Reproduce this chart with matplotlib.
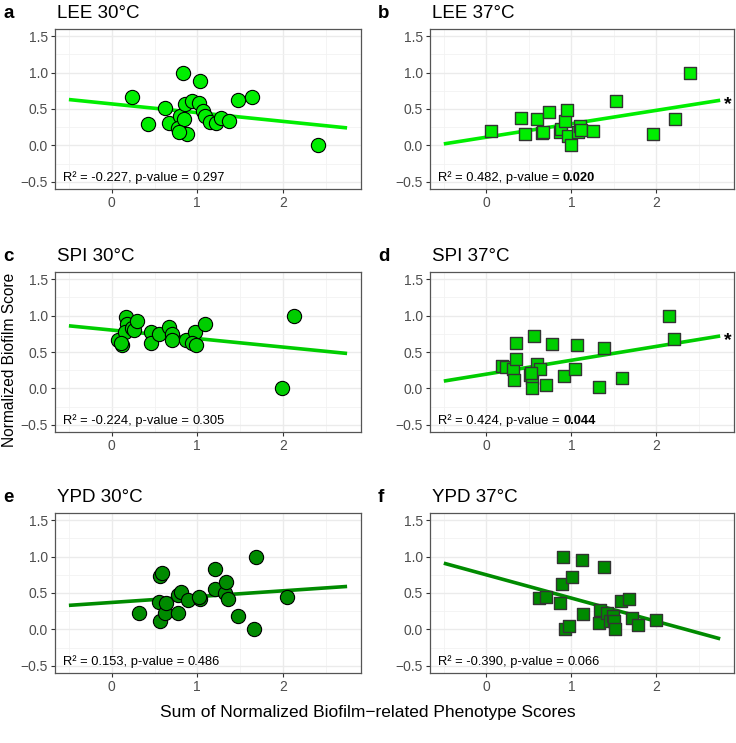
import matplotlib
matplotlib.use("Agg")
import matplotlib.pyplot as plt
import numpy as np

plt.rcParams['font.family'] = ['Liberation Sans', 'DejaVu Sans']

# ---------------- data ----------------
panel_letters = ["a", "b", "c", "d", "e", "f"]
panel_titles = ["LEE 30°C", "LEE 37°C", "SPI 30°C", "SPI 37°C", "YPD 30°C", "YPD 37°C"]

lee30_x = [0.24, 0.42, 0.62, 0.67, 0.83, 1.03, 0.80, 0.78, 0.85, 0.88, 0.855, 0.94, 1.02, 1.07, 1.09,
           1.145, 1.22, 1.275, 1.365, 1.47, 1.635, 2.41, 0.79]
lee30_y = [0.66, 0.29, 0.51, 0.31, 1.00, 0.89, 0.41, 0.24, 0.36, 0.16, 0.57, 0.61, 0.58, 0.47, 0.41,
           0.32, 0.31, 0.38, 0.34, 0.62, 0.67, 0.00, 0.19]

lee37_x = [0.06, 0.41, 0.46, 0.60, 0.65, 0.67, 0.74, 0.87, 0.88, 0.93, 0.95, 0.96, 0.99, 1.08, 1.10,
           1.11, 1.25, 1.52, 1.96, 2.22, 2.40]
lee37_y = [0.20, 0.37, 0.15, 0.36, 0.17, 0.18, 0.46, 0.19, 0.22, 0.34, 0.49, 0.13, 0.00, 0.18, 0.27,
           0.21, 0.20, 0.61, 0.16, 0.36, 1.00]

spi30_x = [0.07, 0.12, 0.165, 0.18, 0.16, 0.24, 0.26, 0.30, 0.46, 0.46, 0.55, 0.67, 0.71, 0.70, 0.87,
           0.97, 0.94, 0.99, 1.09, 1.99, 2.13, 0.11]
spi30_y = [0.66, 0.60, 0.98, 0.89, 0.78, 0.83, 0.80, 0.92, 0.78, 0.63, 0.75, 0.85, 0.75, 0.67, 0.67,
           0.77, 0.62, 0.60, 0.89, 0.00, 1.00, 0.63]

spi37_x = [0.19, 0.23, 0.31, 0.33, 0.35, 0.35, 0.51, 0.54, 0.54, 0.56, 0.59, 0.63, 0.70, 0.77, 0.91,
           1.04, 1.07, 1.33, 1.38, 1.60, 2.15, 2.21, 0.53]
spi37_y = [0.31, 0.29, 0.26, 0.11, 0.63, 0.41, 0.18, 0.14, 0.00, 0.72, 0.33, 0.26, 0.05, 0.61, 0.17,
           0.27, 0.60, 0.02, 0.56, 0.14, 1.00, 0.68, 0.21]

ypd30_x = [0.32, 0.56, 0.59, 0.55, 0.56, 0.62, 0.63, 0.77, 0.78, 0.81, 0.89, 1.03, 1.02, 1.21, 1.21,
           1.32, 1.33, 1.36, 1.47, 1.66, 1.69, 2.05]
ypd30_y = [0.22, 0.74, 0.78, 0.37, 0.12, 0.22, 0.36, 0.47, 0.22, 0.51, 0.41, 0.42, 0.45, 0.83, 0.55,
           0.50, 0.65, 0.42, 0.19, 0.00, 1.00, 0.45]

ypd37_x = [0.62, 0.70, 0.87, 0.89, 0.90, 0.93, 0.97, 1.01, 1.12, 1.14, 1.33, 1.34, 1.38, 1.42, 1.45,
           1.49, 1.50, 1.51, 1.58, 1.68, 1.71, 1.78, 2.00]
ypd37_y = [0.43, 0.45, 0.36, 0.62, 1.00, 0.00, 0.04, 0.72, 0.95, 0.21, 0.09, 0.26, 0.86, 0.23, 0.11,
           0.18, 0.11, 0.00, 0.39, 0.42, 0.16, 0.06, 0.13]

# fitted line end values at x = -0.5 and x = 2.75
line_x = [-0.5, 2.75]
lee30_line = [0.63, 0.24]
lee37_line = [0.02, 0.62]
spi30_line = [0.86, 0.48]
spi37_line = [0.10, 0.72]
ypd30_line = [0.33, 0.59]
ypd37_line = [0.91, -0.13]

stat_r = ["-0.227", "0.482", "-0.224", "0.424", "0.153", "-0.390"]
stat_p = ["0.297", "0.020", "0.305", "0.044", "0.486", "0.066"]
significant = [False, True, False, True, False, False]

xs = [lee30_x, lee37_x, spi30_x, spi37_x, ypd30_x, ypd37_x]
ys = [lee30_y, lee37_y, spi30_y, spi37_y, ypd30_y, ypd37_y]
lines = [lee30_line, lee37_line, spi30_line, spi37_line, ypd30_line, ypd37_line]

# ---------------- styling ----------------
colors = ["#00EE00", "#00EE00", "#00CD00", "#00CD00", "#008B00", "#008B00"]
markers = ["o", "s", "o", "s", "o", "s"]

W, H = 736, 743
fig = plt.figure(figsize=(W / 100, H / 100), dpi=100)

lefts = [55, 430]
widths = [306, 304]
tops = [29, 272, 513]
height = 160


def px_axes(left, top, w, h):
    return fig.add_axes([left / W, 1 - (top + h) / H, w / W, h / H])


for i in range(6):
    row, col = divmod(i, 2)
    ax = px_axes(lefts[col], tops[row], widths[col], height)
    ax.set_xlim(-0.6625, 2.9125)
    ax.set_ylim(-0.6, 1.6)
    ax.set_xticks([0, 1, 2])
    ax.set_xticks([-0.5, 0.5, 1.5, 2.5], minor=True)
    ax.set_yticks([-0.5, 0.0, 0.5, 1.0, 1.5])
    ax.set_yticks([-0.25, 0.25, 0.75, 1.25], minor=True)
    ax.set_yticklabels(["\u22120.5", "0.0", "0.5", "1.0", "1.5"])
    ax.grid(True, which="major", color="#EBEBEB", linewidth=1.0, zorder=0)
    ax.grid(True, which="minor", color="#F2F2F2", linewidth=0.6, zorder=0)
    ax.set_axisbelow(True)
    for s in ax.spines.values():
        s.set_color("#555555")
        s.set_linewidth(0.9)
    ax.tick_params(which="major", length=3, width=0.8, color="#333333",
                   labelsize=10, labelcolor="#4D4D4D", pad=2)
    ax.tick_params(which="minor", length=0)

    ax.plot(line_x, lines[i], color=colors[i], linewidth=2.6, zorder=2, solid_capstyle="butt")
    if markers[i] == "o":
        ax.scatter(xs[i], ys[i], s=105, marker="o", facecolor=colors[i], edgecolor="black",
                   linewidth=0.8, zorder=3)
    else:
        ax.scatter(xs[i], ys[i], s=85, marker="s", facecolor=colors[i], edgecolor="#333333",
                   linewidth=1.0, zorder=3)

    t1 = ax.text(0.026, 0.07, f"R\u00b2 = {stat_r[i]}, p-value = ", transform=ax.transAxes,
                 fontsize=9.3, ha="left", va="center", color="black")
    ax.annotate(stat_p[i], xy=(1, 0), xycoords=t1, ha="left", va="bottom", fontsize=9.3,
                fontweight="bold" if significant[i] else "normal", color="black")
    if significant[i]:
        ax.text(2.79, lines[i][1] - 0.06, "*", fontsize=14, fontweight="bold",
                ha="left", va="center", clip_on=False)

    # title and letter
    fig.text((lefts[col] + 2) / W, 1 - 18 / H - (tops[row] - 29) / H, panel_titles[i],
             fontsize=13.5, ha="left", va="baseline")
    fig.text((lefts[col] - 52) / W, 1 - 18 / H - (tops[row] - 29) / H, panel_letters[i],
             fontsize=13.5, fontweight="bold", ha="left", va="baseline")

fig.text(10 / W, 1 - 360 / H, "Normalized Biofilm Score", rotation=90, fontsize=11.2,
         ha="center", va="center")
fig.text(368 / W, 1 - 712 / H, "Sum of Normalized Biofilm\u2212related Phenotype Scores",
         fontsize=12.5, ha="center", va="center")

fig.savefig("out.png", dpi=100)
